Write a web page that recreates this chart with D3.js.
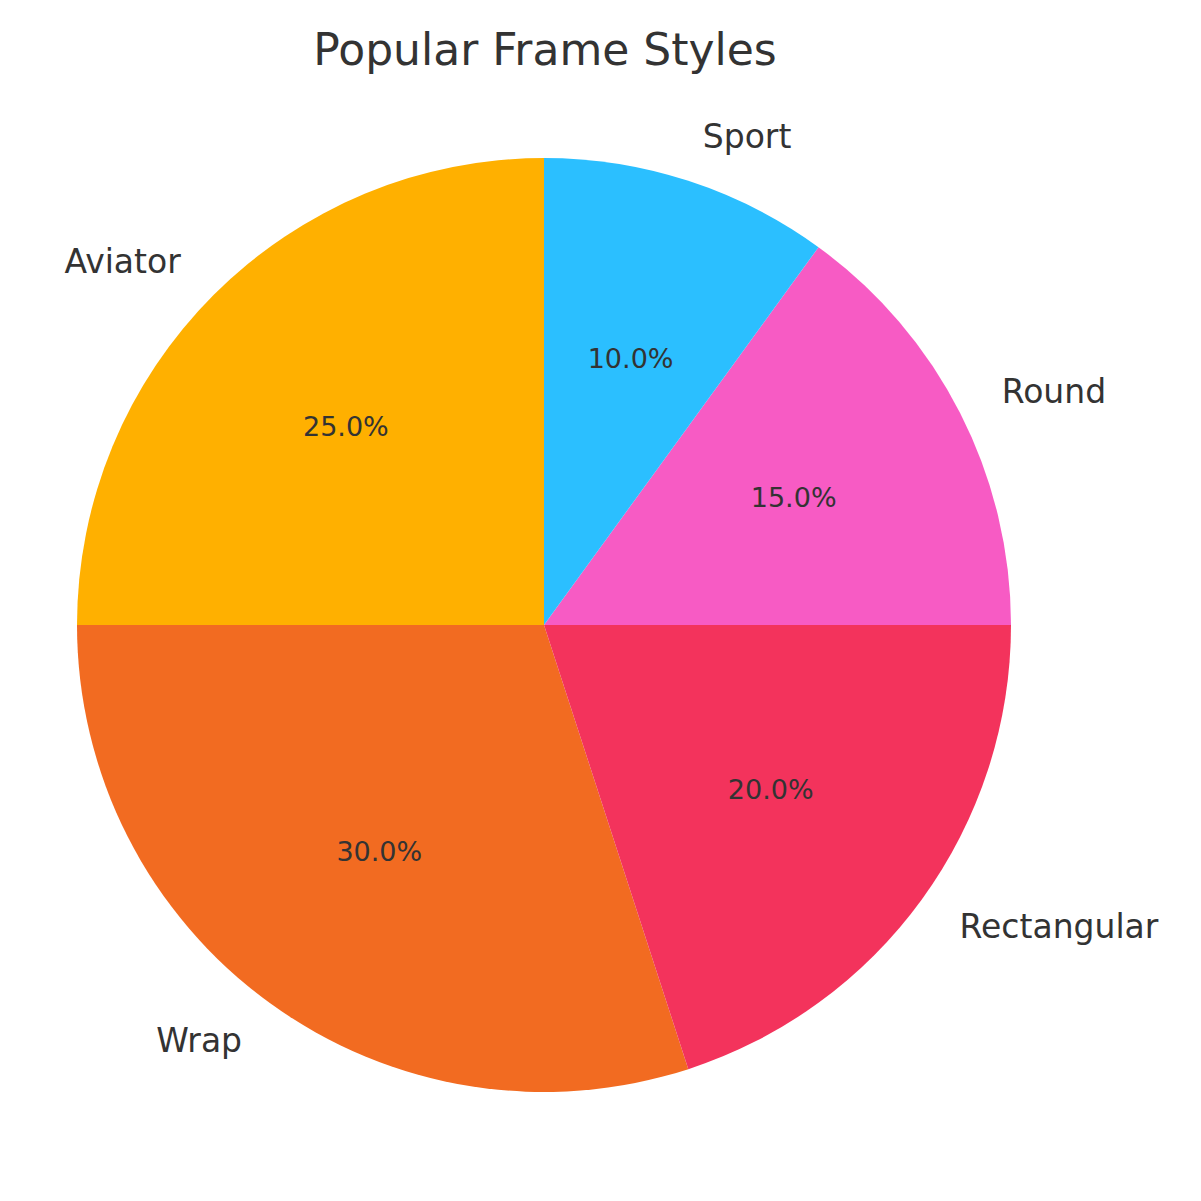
<!DOCTYPE html>
<html>
<head>
<meta charset="utf-8">
<script src="https://cdn.jsdelivr.net/npm/d3@7"></script>
<style>
  html, body { margin: 0; padding: 0; background: #fff; }
  text { font-family: "DejaVu Sans", sans-serif; fill: #333; }
</style>
</head>
<body>
<svg id="chart" width="1201" height="1201"></svg>
<script>
// frame style shares, counterclockwise from 12 o'clock
var styles = ["Aviator", "Wrap", "Rectangular", "Round", "Sport"];
var shares = [25, 30, 20, 15, 10];
var colours = ["#FFB000", "#F26B21", "#F3335C", "#F75BC4", "#2BBFFF"];

var svg = d3.select("#chart");
var cx = 544, cy = 625, radius = 467;

svg.append("text")
	.attr("x", 545).attr("y", 65)
	.attr("text-anchor", "middle")
	.style("font-size", "44px")
	.text("Popular Frame Styles");

var data = styles.map(function(s, i) { return { name: s, value: shares[i], colour: colours[i] }; });
var total = d3.sum(shares);

var pie = d3.pie().sort(null).value(function(d) { return d.value; })
	.startAngle(0).endAngle(-2 * Math.PI);
var arcs = pie(data);

var arc = d3.arc().innerRadius(0).outerRadius(radius);
var g = svg.append("g").attr("transform", "translate(" + cx + "," + cy + ")");

g.selectAll("path.slice").data(arcs).enter().append("path")
	.attr("class", "slice")
	.attr("d", arc)
	.attr("fill", function(d) { return d.data.colour; });

function mid(d) { return (d.startAngle + d.endAngle) / 2; }

// category labels at 1.1 r
g.selectAll("text.label").data(arcs).enter().append("text")
	.attr("class", "label")
	.attr("x", function(d) { return 1.1 * radius * Math.sin(mid(d)); })
	.attr("y", function(d) { return -1.1 * radius * Math.cos(mid(d)); })
	.attr("dy", "0.35em")
	.attr("text-anchor", function(d) { return Math.sin(mid(d)) > 0 ? "start" : "end"; })
	.style("font-size", "33px")
	.text(function(d) { return d.data.name; });

// percentage labels at 0.6 r
g.selectAll("text.pct").data(arcs).enter().append("text")
	.attr("class", "pct")
	.attr("x", function(d) { return 0.6 * radius * Math.sin(mid(d)); })
	.attr("y", function(d) { return -0.6 * radius * Math.cos(mid(d)); })
	.attr("dy", "0.35em")
	.attr("text-anchor", "middle")
	.style("font-size", "27px")
	.text(function(d) { return (100 * d.data.value / total).toFixed(1) + "%"; });
</script>
</body>
</html>
